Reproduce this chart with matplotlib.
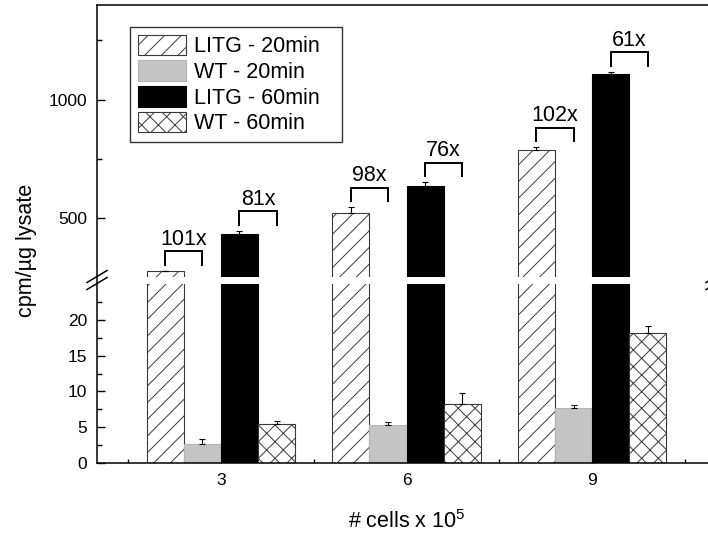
import matplotlib
matplotlib.use("Agg")
import matplotlib.pyplot as plt
from matplotlib.patches import Patch
from matplotlib.lines import Line2D
from matplotlib.ticker import FixedLocator

plt.rcParams['font.family'] = ['Liberation Sans', 'DejaVu Sans']
plt.rcParams['mathtext.fontset'] = 'custom'
plt.rcParams['mathtext.rm'] = 'Liberation Sans'
plt.rcParams['mathtext.it'] = 'Liberation Sans:italic'
plt.rcParams['hatch.linewidth'] = 0.7

# cell number (x 10^5) and cpm/ug lysate per condition
cells = [3, 6, 9]
series = ['LITG - 20min', 'WT - 20min', 'LITG - 60min', 'WT - 60min']
litg_20 = [274, 522, 788]
litg_20_err = [2, 22, 11]
wt_20 = [2.7, 5.33, 7.7]
wt_20_err = [0.6, 0.4, 0.45]
litg_60 = [432, 636, 1107]
litg_60_err = [13, 14, 10]
wt_60 = [5.4, 8.3, 18.2]
wt_60_err = [0.4, 1.5, 0.95]
fold_20 = ['101x', '98x', '102x']
fold_60 = ['81x', '76x', '61x']

values = [litg_20, wt_20, litg_60, wt_60]
errors = [litg_20_err, wt_20_err, litg_60_err, wt_60_err]
styles = [
    dict(facecolor='white', edgecolor='#3a3a3a', hatch='//'),
    dict(facecolor='#c4c4c4', edgecolor='#b4b4b4'),
    dict(facecolor='black', edgecolor='black'),
    dict(facecolor='white', edgecolor='#3a3a3a', hatch='xx'),
]
width = 0.6
FS = 15.5

W, H = 708, 533
fig = plt.figure(figsize=(W / 100, H / 100), dpi=100)

# broken y axis: two panels, lower 0-25, upper 250-1400
left, right = 97, 716
ax_top = fig.add_axes([left / W, 1 - 277 / H, (right - left) / W, (277 - 5) / H])
ax_bot = fig.add_axes([left / W, 1 - 463 / H, (right - left) / W, (463 - 284) / H])

for ax in (ax_top, ax_bot):
    ax.set_axisbelow(True)
    for i, (vals, errs, st) in enumerate(zip(values, errors, styles)):
        xs = [c + (i - 1.5) * width for c in cells]
        ax.bar(xs, vals, width, linewidth=0.8, zorder=1, **st)
        ax.errorbar(xs, vals, yerr=[[0] * len(errs), errs], fmt='none',
                    ecolor='black', elinewidth=0.8, capsize=2.5, capthick=0.8)
    ax.set_xlim(1, 11)
    for sp in ax.spines.values():
        sp.set_linewidth(1.1)
    ax.tick_params(which='both', direction='in', width=1.0, labelsize=12.5, pad=7)
    ax.tick_params(which='major', length=6)
    ax.tick_params(which='minor', length=3.5)

ax_top.set_ylim(250, 1400)
ax_top.yaxis.set_major_locator(FixedLocator([500, 1000]))
ax_top.yaxis.set_minor_locator(FixedLocator([750, 1250]))
ax_top.spines['bottom'].set_visible(False)
ax_top.tick_params(axis='x', which='both', bottom=False, labelbottom=False)

ax_bot.set_ylim(0, 25)
ax_bot.yaxis.set_major_locator(FixedLocator([0, 5, 10, 15, 20]))
ax_bot.yaxis.set_minor_locator(FixedLocator([2.5, 7.5, 12.5, 17.5, 22.5]))
ax_bot.spines['top'].set_visible(False)
ax_bot.xaxis.set_major_locator(FixedLocator(cells))
ax_bot.xaxis.set_minor_locator(FixedLocator([1.5, 4.5, 7.5, 10.5]))
ax_bot.tick_params(axis='x', which='minor', direction='in', length=3)
ax_bot.set_xlabel('# cells x 10$^5$', fontsize=FS, labelpad=16)

# fold-change brackets between LITG and WT bars
for j, c in enumerate(cells):
    for idx, labels in ((0, fold_20), (2, fold_60)):
        x0 = c + (idx - 1.5) * width
        x1 = x0 + width
        y0 = values[idx][j] + errors[idx][j] + 21
        y1 = y0 + 62
        ax_top.plot([x0, x0, x1, x1], [y0, y1, y1, y0], color='black',
                    lw=1.4, solid_joinstyle='miter', solid_capstyle='butt')
        ax_top.annotate(labels[j], ((x0 + x1) / 2, y1), xytext=(0, 1),
                        textcoords='offset points', ha='center', va='bottom',
                        fontsize=FS)

handles = [Patch(linewidth=0.8, **st) for st in styles]
leg = ax_top.legend(handles, series, loc='upper left', mode='expand',
                    bbox_to_anchor=(33 / 619, 1 - 138 / 272, 212 / 619, 116 / 272),
                    borderaxespad=0, fontsize=FS, handlelength=2.26,
                    handleheight=1.1, labelspacing=0.14, handletextpad=0.37,
                    borderpad=0.35, fancybox=False, framealpha=1,
                    edgecolor='#333333')
leg.get_frame().set_linewidth(1.0)

fig.text(0.037, 0.53, 'cpm/\u00b5g lysate', rotation=90, fontsize=FS,
         ha='center', va='center')


# spine across the gap plus the double-slash break marks
def px(x, y):
    return x / W, 1 - y / H


for xs in (left, right):
    (ax_, ay0), (_, ay1) = px(xs, 277), px(xs, 284)
    fig.add_artist(Line2D([ax_, ax_], [ay0, ay1], color='black', lw=1.1))
    for off in (-3.5, 3.5):
        (sx0, sy0), (sx1, sy1) = px(xs - 10, 280 + off + 6), px(xs + 10, 280 + off - 6)
        fig.add_artist(Line2D([sx0, sx1], [sy0, sy1], color='black', lw=1.1))

fig.savefig('out.png', dpi=100)
